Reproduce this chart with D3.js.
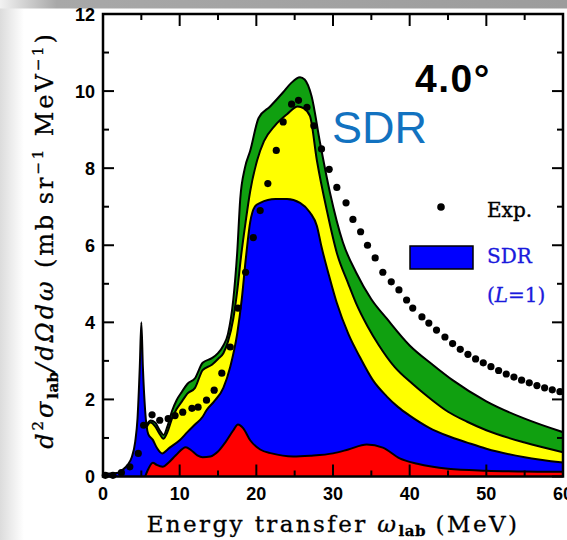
<!DOCTYPE html>
<html><head><meta charset="utf-8">
<script src="https://cdn.jsdelivr.net/npm/d3@7"></script>
<style>body{margin:0;background:#fff}svg{display:block}</style>
</head><body>
<svg id="c" width="567" height="540"></svg>
<script>
// ---------------- data ----------------
const xTicks = [0,10,20,30,40,50,60];
const yTicks = [0,2,4,6,8,10,12];

const greenX = [5.6,6.2,6.8,7.4,7.9,8.4,9,9.6,10.3,11,12,13,14.2,15,15.7,16.3,17,17.5,17.9,18.5,19.2,20.3,21.8,23.5,24.5,25.7,26.3,27.2,28.3,29.6,31.3,33,35,37,40,43,45.6,50,55,60];
const greenY = [1.3,1.45,1.4,1.2,1.08,1.3,1.7,1.98,2.2,2.4,2.55,2.95,3.07,3.2,3.4,3.7,4.6,5.8,7.2,8.0,8.45,9.3,9.6,9.97,10.2,10.36,10.3,9.87,8.67,7.37,6.07,5.3,4.6,4.1,3.4,2.9,2.5,1.95,1.5,1.15];

const yellowX = [5.6,6.2,6.8,7.4,7.9,8.4,9,9.6,10.3,11,12,13,14.2,15,15.7,16.3,17,17.5,18,18.6,19.2,20.1,21,22.4,24,25.4,26.2,27,27.9,29.2,30.5,32,33,34.5,36,38,40.4,42.5,45,47.5,50,55,60];
const yellowY = [1.25,1.4,1.3,1.1,0.98,1.15,1.5,1.75,1.95,2.15,2.3,2.76,2.9,3.05,3.2,3.5,4.1,4.8,5.7,6.6,7.4,8.2,8.7,9.1,9.4,9.6,9.55,9.35,8.2,6.9,5.8,5.0,4.5,3.9,3.4,2.85,2.4,2.05,1.68,1.42,1.2,0.88,0.63];

const blueX = [0,1,2,2.6,3.2,3.75,4.2,4.5,4.8,5.0,5.2,5.5,5.9,6.5,7.0,7.7,8.7,10,11,12,13,13.5,14.5,15.7,16.6,17.5,18.1,18.6,19.2,19.8,20.5,22.5,24,25.7,27,27.9,28.5,29.5,30.5,32,33.5,35.2,37,38.5,40,42.5,45,47.5,50,55,60];
const blueY = [0.08,0.08,0.1,0.18,0.3,0.5,0.9,1.5,2.85,4.0,2.85,1.7,1.1,0.95,0.75,0.6,0.75,0.94,1.15,1.35,1.55,1.72,1.95,2.3,2.85,3.7,4.6,5.6,6.6,7.0,7.1,7.2,7.2,7.1,6.85,6.5,5.96,5.2,4.5,3.7,3.1,2.5,2.08,1.8,1.58,1.27,1.05,0.88,0.72,0.5,0.36];

const redX = [5.5,5.8,6.5,7.0,7.8,8.5,9.5,10.8,11.5,12.3,13,14,15,16,17,17.6,18.3,19.2,20.5,22,24.8,27,30,32,34.4,36.5,38.7,41,45,50,55,60];
const redY = [0,0.15,0.36,0.3,0.25,0.35,0.55,0.76,0.68,0.55,0.5,0.52,0.65,0.9,1.2,1.35,1.25,0.94,0.7,0.6,0.52,0.54,0.6,0.7,0.83,0.75,0.47,0.33,0.2,0.15,0.13,0.12];

const expX = [0.3,1.3,2.4,3.5,4.6,5.3,6.4,7.4,8.5,9.4,10.4,11.6,12.4,13.5,14.5,15.5,16.6,17.6,18.6,19.6,20.5,21.5,22.6,23.5,24.6,25.5,26.6,27.5,28.5,29.5,30.5,31.7,32.6,33.6,34.5,35.5,36.5,37.6,38.6,39.6,40.4,41.6,42.5,43.5,44.6,45.6,46.6,47.6,48.6,49.6,50.6,51.6,52.6,53.6,54.6,55.6,56.6,57.6,58.6,59.6];
const expY = [0.03,0.03,0.1,0.25,0.6,1.33,1.6,1.46,1.5,1.58,1.67,1.77,1.8,1.98,2.24,2.68,3.36,4.37,5.3,6.2,6.9,7.6,8.46,9.2,9.66,9.76,9.58,9.1,8.5,7.97,7.5,7.1,6.67,6.35,6.0,5.67,5.3,5.05,4.84,4.58,4.37,4.14,3.98,3.8,3.62,3.45,3.3,3.17,3.05,2.95,2.85,2.75,2.66,2.58,2.5,2.43,2.36,2.3,2.25,2.2];

// ---------------- layout ----------------
const svg = d3.select("#c");
const L = 103, R = 563, T = 14, B = 476.5;
const x = d3.scaleLinear().domain([0,60]).range([L,R]);
const y = d3.scaleLinear().domain([0,12]).range([B,T]);

const defs = svg.append("defs");
const g1 = defs.append("linearGradient").attr("id","topg").attr("x1","0").attr("x2","1").attr("y1","0").attr("y2","0");
g1.append("stop").attr("offset","0").attr("stop-color","#f2f2f2");
g1.append("stop").attr("offset","0.1").attr("stop-color","#a8a8a8");
g1.append("stop").attr("offset","1").attr("stop-color","#9c9c9c");
const g2 = defs.append("linearGradient").attr("id","leftg").attr("x1","0").attr("x2","1").attr("y1","0").attr("y2","0");
g2.append("stop").attr("offset","0").attr("stop-color","#dcdcdc");
g2.append("stop").attr("offset","1").attr("stop-color","#ffffff");
defs.append("clipPath").attr("id","clip").append("rect").attr("x",L).attr("y",T).attr("width",R-L).attr("height",B-T);

svg.append("rect").attr("width",567).attr("height",540).attr("fill","#fff");
svg.append("rect").attr("x",0).attr("y",8).attr("width",24).attr("height",532).attr("fill","url(#leftg)");
svg.append("rect").attr("x",0).attr("y",0).attr("width",567).attr("height",8.5).attr("fill","url(#topg)");

// ---------------- bands ----------------
const plot = svg.append("g").attr("clip-path","url(#clip)");
function band(xs, ys, fill){
  const pts = xs.map((d,i)=>[d, ys[i]]);
  const area = d3.area().x(d=>x(d[0])).y0(y(0)).y1(d=>y(d[1])).curve(d3.curveMonotoneX);
  const line = d3.line().x(d=>x(d[0])).y(d=>y(d[1])).curve(d3.curveMonotoneX);
  plot.append("path").attr("d", area(pts)).attr("fill", fill);
  plot.append("path").attr("d", line(pts)).attr("fill","none").attr("stroke","#000").attr("stroke-width",2);
}
band(greenX, greenY, "#10a010");
band(yellowX, yellowY, "#ffff00");
band(blueX, blueY, "#0000ff");
band(redX, redY, "#ff0000");

// exp dots
svg.append("g").selectAll("circle").data(expX.map((d,i)=>[d,expY[i]])).join("circle")
  .attr("cx", d=>x(d[0])).attr("cy", d=>y(d[1])).attr("r", 3.6).attr("fill","#000");

// ---------------- axes ----------------
const ax = svg.append("g");
const minorX = d3.range(5,60,10), minorY = d3.range(1,12,2);
xTicks.forEach(t=>{
  ax.append("line").attr("x1",x(t)).attr("x2",x(t)).attr("y1",B).attr("y2",B-12).attr("stroke","#000").attr("stroke-width",2);
  ax.append("line").attr("x1",x(t)).attr("x2",x(t)).attr("y1",T).attr("y2",T+12).attr("stroke","#000").attr("stroke-width",2);
});
minorX.forEach(t=>{
  ax.append("line").attr("x1",x(t)).attr("x2",x(t)).attr("y1",B).attr("y2",B-6).attr("stroke","#000").attr("stroke-width",2);
  ax.append("line").attr("x1",x(t)).attr("x2",x(t)).attr("y1",T).attr("y2",T+6).attr("stroke","#000").attr("stroke-width",2);
});
yTicks.forEach(t=>{
  ax.append("line").attr("x1",L).attr("x2",L+11).attr("y1",y(t)).attr("y2",y(t)).attr("stroke","#000").attr("stroke-width",2);
  ax.append("line").attr("x1",R).attr("x2",R-11).attr("y1",y(t)).attr("y2",y(t)).attr("stroke","#000").attr("stroke-width",2);
});
minorY.forEach(t=>{
  ax.append("line").attr("x1",L).attr("x2",L+6).attr("y1",y(t)).attr("y2",y(t)).attr("stroke","#000").attr("stroke-width",2);
  ax.append("line").attr("x1",R).attr("x2",R-6).attr("y1",y(t)).attr("y2",y(t)).attr("stroke","#000").attr("stroke-width",2);
});
ax.append("rect").attr("x",L).attr("y",T).attr("width",R-L).attr("height",B-T).attr("fill","none").attr("stroke","#000").attr("stroke-width",2.5);

const tickFont = "'Liberation Sans', Arial, sans-serif";
ax.selectAll("text.xt").data(xTicks).join("text").attr("class","xt")
  .attr("x", d=>x(d)).attr("y", 500).attr("text-anchor","middle")
  .attr("font-family", tickFont).attr("font-weight","bold").attr("font-size",18).text(d=>d);
ax.selectAll("text.yt").data(yTicks).join("text").attr("class","yt")
  .attr("x", 95).attr("y", d=>y(d)+6.5).attr("text-anchor","end")
  .attr("font-family", tickFont).attr("font-weight","bold").attr("font-size",18).text(d=>d);

// axis titles
const serif = "'DejaVu Serif', serif";
const xt = svg.append("text").attr("x",333).attr("y",532).attr("text-anchor","middle")
  .attr("font-family",serif).attr("font-size",23).attr("letter-spacing",2.4).attr("stroke","#000").attr("stroke-width",0.3);
xt.append("tspan").text("Energy transfer ");
xt.append("tspan").attr("font-style","italic").text("ω");
xt.append("tspan").attr("font-size",15).attr("font-weight","bold").attr("letter-spacing",0.5).attr("dy",4).text("lab");
xt.append("tspan").attr("dy",-4).text(" (MeV)");

const yt = svg.append("text").attr("transform","translate(53,240) rotate(-90)").attr("text-anchor","middle")
  .attr("font-family",serif).attr("font-size",24).attr("letter-spacing",2.9).attr("stroke","#000").attr("stroke-width",0.3);
yt.append("tspan").attr("font-style","italic").text("d");
yt.append("tspan").attr("font-size",15).attr("dy",-10).text("2");
yt.append("tspan").attr("font-style","italic").attr("dy",10).text("σ");
yt.append("tspan").attr("font-size",15).attr("font-weight","bold").attr("letter-spacing",0.5).attr("dy",5).text("lab");
yt.append("tspan").attr("font-style","italic").attr("dy",-5).text("/dΩdω");
yt.append("tspan").text(" (mb\u2009sr");
yt.append("tspan").attr("font-size",15).attr("dy",-10).text("−1");
yt.append("tspan").attr("dy",10).text(" MeV");
yt.append("tspan").attr("font-size",15).attr("dy",-10).text("−1");
yt.append("tspan").attr("dy",10).text(")");

// annotations
svg.append("text").attr("x",415).attr("y",92).attr("font-family","'Liberation Sans', Arial, sans-serif")
  .attr("font-weight","bold").attr("font-size",39).attr("letter-spacing",1.5).attr("fill","#000").text("4.0°");
svg.append("text").attr("x",332).attr("y",143).attr("font-family","'Liberation Sans', Arial, sans-serif")
  .attr("font-size",45).attr("fill","#1272c0").text("SDR");

// legend
svg.append("circle").attr("cx",441).attr("cy",207).attr("r",3.8).attr("fill","#000");
svg.append("text").attr("x",487).attr("y",217).attr("font-family",serif).attr("font-size",20).attr("stroke","#000").attr("stroke-width",0.4).attr("fill","#000").text("Exp.");
svg.append("rect").attr("x",410).attr("y",246).attr("width",63).attr("height",23).attr("fill","#0000ff").attr("stroke","#000").attr("stroke-width",1.5);
svg.append("text").attr("x",487).attr("y",263).attr("font-family",serif).attr("font-size",20).attr("fill","#1a1adc").attr("stroke","#1a1adc").attr("stroke-width",0.3).text("SDR");
const lt = svg.append("text").attr("x",487).attr("y",302).attr("font-family",serif).attr("font-size",20).attr("fill","#1a1adc").attr("stroke","#1a1adc").attr("stroke-width",0.3);
lt.append("tspan").text("(");
lt.append("tspan").attr("font-style","italic").text("L");
lt.append("tspan").text("=1)");
</script>
</body></html>
